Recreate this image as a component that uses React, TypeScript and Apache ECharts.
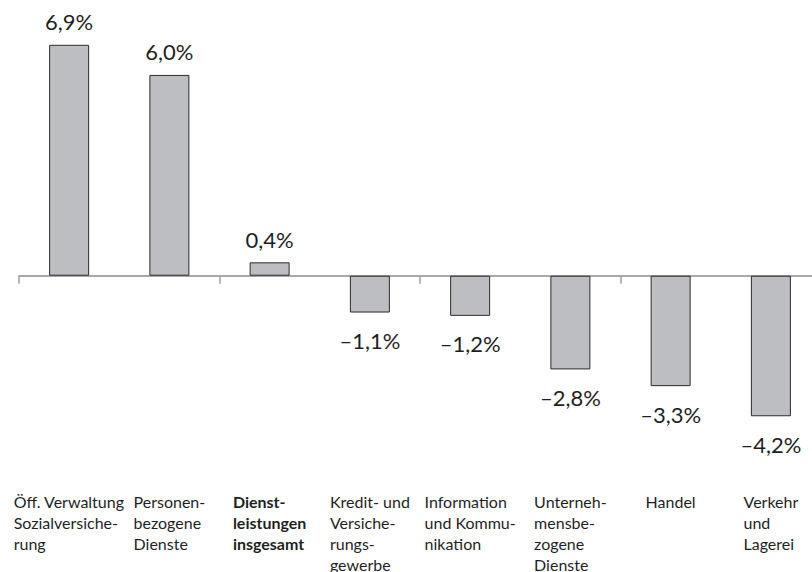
import React, { useEffect, useRef } from "react";
import * as echarts from "echarts";

const categories: string[] = [
  "Öff. Verwaltung\nSozialversiche-\nrung",
  "Personen-\nbezogene\nDienste",
  "Dienst-\nleistungen\ninsgesamt",
  "Kredit- und\nVersiche-\nrungs-\ngewerbe",
  "Information\nund Kommu-\nnikation",
  "Unterneh-\nmensbe-\nzogene\nDienste",
  "Handel",
  "Verkehr\nund\nLagerei",
];
const values: number[] = [6.9, 6.0, 0.4, -1.1, -1.2, -2.8, -3.3, -4.2];
const boldIndex = 2;

const FONT = "Lato, Roboto, 'Noto Sans', sans-serif";

function fmt(v: number): string {
  const s = Math.abs(v).toFixed(1).replace(".", ",") + "%";
  return v < 0 ? "–" + s : s;
}

export default function App() {
  const ref = useRef<HTMLDivElement>(null);
  useEffect(() => {
    if (!ref.current) return;
    const chart = echarts.init(ref.current, undefined, { renderer: "svg" });
    const labelStyle = {
      fontFamily: FONT,
      fontSize: 16,
      lineHeight: 21,
      color: "#1f1f1f",
      align: "left",
    };
    chart.setOption({
      animation: false,
      backgroundColor: "#ffffff",
      grid: { left: 19, top: 8, width: 802, height: 472, containLabel: false },
      xAxis: [
        {
          type: "category",
          data: categories,
          axisLine: { show: true, onZero: true, lineStyle: { color: "#8c8c8c", width: 1.5 } },
          axisTick: { show: true, length: 8, lineStyle: { color: "#a0a0a0", width: 1.5 } },
          axisLabel: { show: false },
          splitLine: { show: false },
        },
        {
          type: "category",
          data: categories,
          position: "bottom",
          axisLine: { show: false, onZero: false },
          axisTick: { show: false },
          splitLine: { show: false },
          axisLabel: {
            show: true,
            interval: 0,
            margin: 14,
            formatter: (val: string, idx: number) =>
              val
                .split("\n")
                .map((l) => `{${idx === boldIndex ? "b" : "n"}|${l}}`)
                .join("\n"),
            rich: {
              n: { ...labelStyle },
              b: { ...labelStyle, fontWeight: "bold" },
            },
          },
        },
      ],
      yAxis: {
        type: "value",
        min: -6,
        max: 8,
        show: false,
        splitLine: { show: false },
      },
      series: [
        {
          type: "bar",
          xAxisIndex: 0,
          barWidth: 40,
          itemStyle: { color: "#bdbec2", borderColor: "#2b2b2b", borderWidth: 1 },
          data: values.map((v) => ({
            value: v,
            label: {
              show: true,
              position: v >= 0 ? "top" : "bottom",
              distance: v >= 0 ? 12 : 17,
            },
          })),
          label: {
            show: true,
            fontFamily: FONT,
            fontSize: 22,
            color: "#1f1f1f",
            formatter: (p: any) => fmt(values[p.dataIndex]),
          },
        },
      ],
    });
    return () => chart.dispose();
  }, []);
  return (
    <div style={{ position: "fixed", left: 0, top: 0, width: 812, height: 572, overflow: "hidden" }}>
      <div ref={ref} style={{ width: 832, height: 572 }} />
    </div>
  );
}
